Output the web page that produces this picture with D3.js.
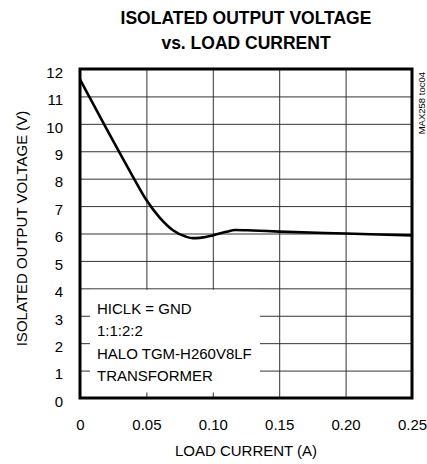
<!DOCTYPE html>
<html>
<head>
<meta charset="utf-8">
<script src="https://cdn.jsdelivr.net/npm/d3@7"></script>
<style>
  body { margin: 0; background: #fff; }
  svg { display: block; }
  .axis path { display: none; }
  .grid line { stroke: #333; stroke-width: 1; }
</style>
</head>
<body>
<div id="chart" style="width:427px;height:464px;"></div>
<script>
// data
const loadCurrent = [0, 0.01, 0.02, 0.03, 0.04, 0.05, 0.06, 0.07, 0.08, 0.085, 0.09, 0.10, 0.11, 0.117, 0.13, 0.15, 0.20, 0.25];
const outputVoltage = [11.62, 10.72, 9.82, 8.93, 8.06, 7.22, 6.58, 6.12, 5.88, 5.83, 5.84, 5.93, 6.06, 6.13, 6.11, 6.07, 6.00, 5.93];
const xTicks = [0, 0.05, 0.10, 0.15, 0.20, 0.25];
const xTickLabels = ['0', '0.05', '0.10', '0.15', '0.20', '0.25'];
const yTicks = [0, 1, 2, 3, 4, 5, 6, 7, 8, 9, 10, 11, 12];
const titleLines = ['ISOLATED OUTPUT VOLTAGE', 'vs. LOAD CURRENT'];
const noteLines = ['HICLK = GND', '1:1:2:2', 'HALO TGM-H260V8LF', 'TRANSFORMER'];

const data = loadCurrent.map((c, i) => ({ c: c, v: outputVoltage[i] }));

const font = '"Liberation Sans", Arial, sans-serif';
const width = 427, height = 464;
const margin = { top: 69, right: 15, bottom: 66, left: 80 };
const innerWidth = width - margin.left - margin.right,
      innerHeight = height - margin.top - margin.bottom;

const svg = d3.select('#chart').append('svg')
  .attr('width', width)
  .attr('height', height)
  .attr('font-family', font);

const chartInner = svg.append('g')
  .attr('transform', `translate(${margin.left}, ${margin.top})`);

// ----------------------------------
// SCALES
// ----------------------------------
const xScale = d3.scaleLinear().domain([0, 0.25]).range([0, innerWidth]);
const yScale = d3.scaleLinear().domain([0, 12]).range([innerHeight, 0]);

// ----------------------------------
// AXES + GRID
// ----------------------------------
const yAxis = chartInner.append('g')
  .attr('class', 'y axis grid')
  .call(d3.axisLeft(yScale).tickValues(yTicks).tickSize(-innerWidth).tickPadding(17));
yAxis.attr('font-family', font).attr('font-size', 15);
yAxis.selectAll('text').attr('dy', '0.55em').attr('fill', '#000');

const xAxis = chartInner.append('g')
  .attr('class', 'x axis grid')
  .attr('transform', `translate(0, ${innerHeight})`)
  .call(d3.axisBottom(xScale).tickValues(xTicks)
    .tickFormat((d, i) => xTickLabels[i])
    .tickSize(-innerHeight).tickPadding(21));
xAxis.attr('font-family', font).attr('font-size', 15);
xAxis.selectAll('text').attr('fill', '#000');

// note box hides the grid behind it
chartInner.append('rect')
  .attr('x', 10)
  .attr('y', yScale(4) + 1.5)
  .attr('width', 170)
  .attr('height', yScale(0) - yScale(4) - 7)
  .attr('fill', '#fff');

chartInner.append('g')
  .selectAll('text')
  .data(noteLines)
  .join('text')
  .attr('x', 17)
  .attr('y', (d, i) => 245 + i * 22.4)
  .attr('font-size', 15)
  .text(d => d);

// ----------------------------------
// CURVE
// ----------------------------------
const line = d3.line()
  .x(d => xScale(d.c))
  .y(d => yScale(d.v))
  .curve(d3.curveMonotoneX);

chartInner.append('path')
  .datum(data)
  .attr('d', line)
  .attr('fill', 'none')
  .attr('stroke', '#000')
  .attr('stroke-width', 2.6)
  .attr('stroke-linejoin', 'round');

// frame
chartInner.append('rect')
  .attr('width', innerWidth)
  .attr('height', innerHeight)
  .attr('fill', 'none')
  .attr('stroke', '#000')
  .attr('stroke-width', 3);

// ----------------------------------
// TITLES + LABELS
// ----------------------------------
svg.append('g')
  .selectAll('text')
  .data(titleLines)
  .join('text')
  .attr('x', margin.left + innerWidth / 2)
  .attr('y', (d, i) => 24 + i * 25)
  .attr('text-anchor', 'middle')
  .attr('font-size', 17.5)
  .attr('font-weight', 'bold')
  .text(d => d);

svg.append('text')
  .attr('x', margin.left + innerWidth / 2)
  .attr('y', 456)
  .attr('text-anchor', 'middle')
  .attr('font-size', 15)
  .text('LOAD CURRENT (A)');

svg.append('text')
  .attr('transform', `translate(27, ${margin.top + innerHeight / 2 - 5}) rotate(-90)`)
  .attr('text-anchor', 'middle')
  .attr('font-size', 15)
  .text('ISOLATED OUTPUT VOLTAGE (V)');

svg.append('text')
  .attr('transform', `translate(425, 72) rotate(-90)`)
  .attr('text-anchor', 'end')
  .attr('font-size', 9.5)
  .text('MAX258 toc04');
</script>
</body>
</html>
